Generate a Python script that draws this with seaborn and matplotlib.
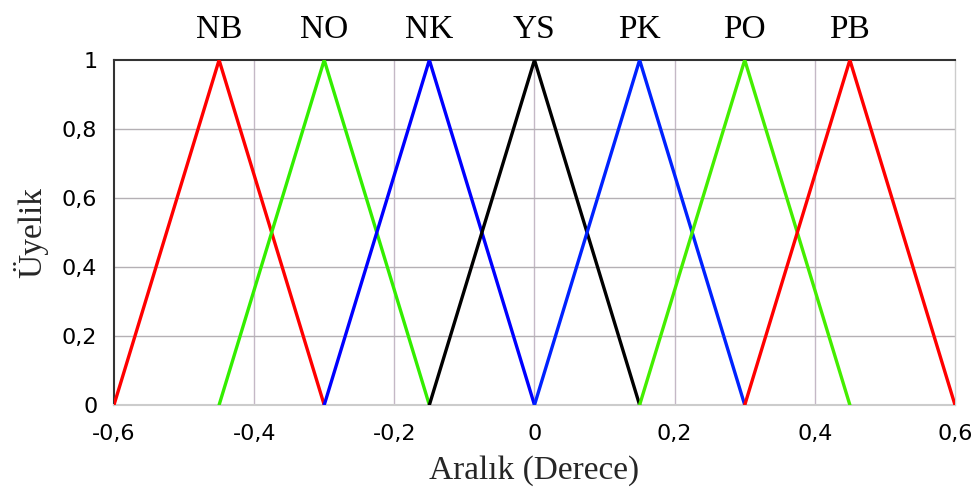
import matplotlib
matplotlib.use("Agg")
import matplotlib.pyplot as plt
import seaborn as sns
import pandas as pd

labels = ["NB", "NO", "NK", "YS", "PK", "PO", "PB"]
x_points = [
    [-0.60, -0.45, -0.30],
    [-0.45, -0.30, -0.15],
    [-0.30, -0.15, 0.00],
    [-0.15, 0.00, 0.15],
    [0.00, 0.15, 0.30],
    [0.15, 0.30, 0.45],
    [0.30, 0.45, 0.60],
]
y_points = [0, 1, 0]
colors = ["#ff0000", "#33ee00", "#0000ff", "#000000", "#0022ff", "#44ee00", "#ff0000"]
x_ticks = [-0.6, -0.4, -0.2, 0, 0.2, 0.4, 0.6]
x_tick_labels = ["-0,6", "-0,4", "-0,2", "0", "0,2", "0,4", "0,6"]
y_ticks = [0, 0.2, 0.4, 0.6, 0.8, 1]
y_tick_labels = ["0", "0,2", "0,4", "0,6", "0,8", "1"]

rows = []
for name, xs in zip(labels, x_points):
    for i, (xv, yv) in enumerate(zip(xs, y_points)):
        rows.append({"set": name, "x": xv, "y": yv, "order": i})
df = pd.DataFrame(rows)

sns.set_theme(style="white")
fig = plt.figure(figsize=(9.74, 4.96), dpi=100)
ax = fig.add_axes([0.117, 0.1835, 0.8635, 0.6955])

for gx in [-0.4, -0.2, 0, 0.2, 0.4]:
    ax.axvline(gx, color="#c4b8c6", lw=1.0, zorder=0)
for gy in [0.2, 0.4, 0.6, 0.8]:
    ax.axhline(gy, color="#b4b0b4", lw=1.0, zorder=0)

sns.lineplot(data=df, x="x", y="y", hue="set", palette=dict(zip(labels, colors)),
             hue_order=labels, sort=False, estimator=None, units="set",
             lw=2.4, legend=False, ax=ax, zorder=3)

for name, xs in zip(labels, x_points):
    ax.text(xs[1], 1.065, name, ha="center", va="baseline",
            fontsize=24, family="Liberation Serif", color="black")

ax.set_xlim(-0.6, 0.6)
ax.set_ylim(0, 1)
ax.set_xticks(x_ticks)
ax.set_xticklabels(x_tick_labels, fontsize=16, family="DejaVu Sans")
ax.set_yticks(y_ticks)
ax.set_yticklabels(y_tick_labels, fontsize=16, family="DejaVu Sans")
ax.tick_params(axis="both", length=6, width=1.5, direction="out", colors="black")
ax.tick_params(axis="x", pad=8)
ax.tick_params(axis="y", pad=6)

ax.set_xlabel("Aralık (Derece)", fontsize=24, family="Liberation Serif", labelpad=8)
ax.set_ylabel("Üyelik", fontsize=24, family="Liberation Serif", labelpad=10)

ax.spines["left"].set_color("#333333")
ax.spines["left"].set_linewidth(1.5)
ax.spines["top"].set_color("#333333")
ax.spines["top"].set_linewidth(1.5)
ax.spines["bottom"].set_color("#cccccc")
ax.spines["bottom"].set_linewidth(1.5)
ax.spines["right"].set_color("#cccccc")
ax.spines["right"].set_linewidth(1.0)

fig.savefig("out.png", dpi=100)
